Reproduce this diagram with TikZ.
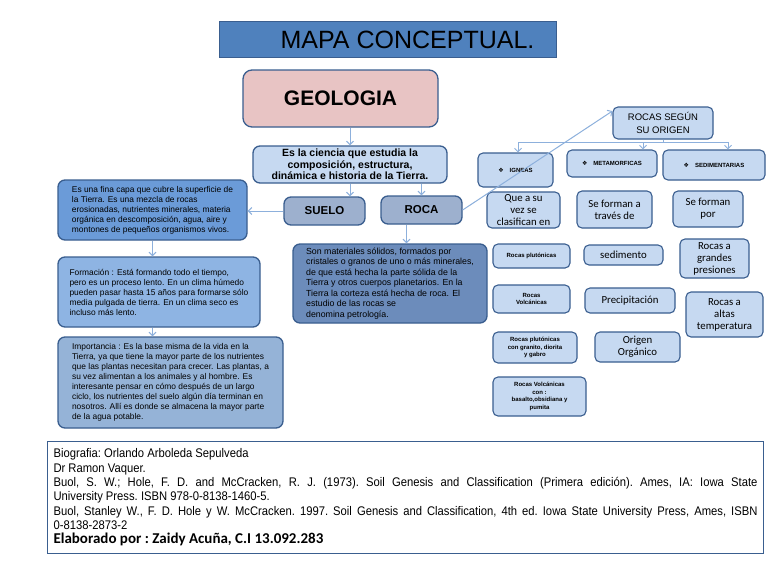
\documentclass[tikz,border=0pt]{standalone}
\usepackage{fontspec}
\setmainfont{Liberation Sans}
\newfontfamily\calibfont{Carlito}
\newfontfamily\narrowfont[FakeStretch=0.9]{Liberation Sans}
\newfontfamily\symbfont{DejaVu Sans}
\usepackage{tikz}
\usetikzlibrary{arrows.meta, positioning}
\definecolor{frame}{HTML}{3A5E8F}
\definecolor{titleblue}{HTML}{4F81BD}
\definecolor{geopink}{HTML}{E8C4C4}
\definecolor{paleblue}{HTML}{C6D9F1}
\definecolor{greyblue}{HTML}{9DB0CE}
\definecolor{skyblue}{HTML}{6B9BD8}
\definecolor{midblue}{HTML}{8EB4E3}
\definecolor{softblue}{HTML}{95B3D7}
\definecolor{steelblue}{HTML}{6C8CBB}
\definecolor{arrowblue}{HTML}{8DB0DC}
\newcommand{\dmark}{{\symbfont ❖}}

\begin{document}
\begin{tikzpicture}[x=1pt, y=-1pt,
  box/.style={rectangle, rounded corners=7pt, draw=frame, line width=1.3pt,
    inner sep=2pt, align=center},
  note/.style={box, align=left, font=\fontsize{8.4}{10}\selectfont},
  lite/.style={box, rounded corners=5pt, fill=paleblue, line width=1.1pt},
  tag/.style={lite, font=\bfseries\fontsize{6}{7.5}\selectfont},
  soft/.style={lite, inner sep=1.5pt, font=\calibfont\fontsize{10.8}{12}\selectfont},
  arr/.style={-{Straight Barb[length=3.5pt, width=7pt]}, arrowblue, line width=1pt},
]
  \useasboundingbox[fill=white] (0,0) rectangle (768,576);

  \node[rectangle, draw=frame, fill=titleblue, line width=1pt, minimum width=337pt,
    minimum height=36pt, font=\fontsize{25}{28}\selectfont] (title) at (387.5,39.5)
    {\hspace*{40pt}MAPA CONCEPTUAL.};

  \node[box, fill=geopink, rounded corners=9pt, minimum width=195pt, minimum height=57pt,
    font=\bfseries\fontsize{21}{24}\selectfont] (geo) at (340.5,98.5) {GEOLOGIA};
  \node[box, fill=paleblue, inner sep=1pt, minimum width=194pt, minimum height=37pt,
    font=\bfseries\fontsize{10.5}{11.5}\selectfont] (def) at (350,164.5)
    {Es la ciencia que estudia la\\composición, estructura,\\dinámica e historia de la Tierra.};
  \node[box, fill=greyblue, minimum width=81pt, minimum height=28pt,
    font=\bfseries\fontsize{11.5}{13}\selectfont] (suelo) at (324.5,211) {SUELO};
  \node[box, fill=greyblue, minimum width=81pt, minimum height=28pt,
    font=\bfseries\fontsize{11.5}{13}\selectfont] (roca) at (421.5,210) {ROCA};

  % suelo
  \node[note, fill=skyblue, minimum width=189pt, minimum height=60pt] (capa) at (152.5,210)
    {Es una fina capa que cubre la superficie de\\
     la Tierra. Es una mezcla de rocas\\
     erosionadas, nutrientes minerales, materia\\
     orgánica en descomposición, agua, aire y\\
     montones de pequeños organismos vivos.};
  \node[note, fill=midblue, minimum width=202pt, minimum height=70pt] (forma) at (159,292)
    {Formación :  Está formando todo el tiempo,\\
     pero es un proceso lento. En un clima húmedo\\
     pueden pasar hasta 15 años para formarse sólo\\
     media pulgada de tierra. En un clima seco es\\
     incluso más lento.};
  \node[note, fill=softblue, minimum width=225pt, minimum height=91pt] (impor) at (170.5,382.5)
    {Importancia : Es la base misma de la vida en la\\
     Tierra, ya que tiene la mayor parte de los nutrientes\\
     que las plantas necesitan para crecer. Las plantas, a\\
     su vez alimentan a los animales  y al hombre. Es\\
     interesante pensar en cómo después de un largo\\
     ciclo, los nutrientes del suelo algún día terminan en\\
     nosotros. Allí es donde se almacena la mayor parte\\
     de la agua potable.};

  % roca
  \node[note, fill=steelblue, minimum width=194pt, minimum height=79pt,
    font=\fontsize{8.8}{10.5}\selectfont] (solid) at (390,283.5)
    { Son materiales  sólidos, formados por\\
     cristales o granos de uno o más minerales,\\
     de que está hecha la parte sólida de la\\
     Tierra y otros cuerpos planetarios. En la\\
     Tierra la corteza está hecha de roca. El\\
     estudio de las rocas se\\
     denomina petrología.};

  \node[lite, minimum width=100pt, minimum height=32pt,
    font=\fontsize{9.5}{13}\selectfont] (rocas) at (663,123) {ROCAS SEGÚN\\SU ORIGEN};
  \node[tag, minimum width=75pt, minimum height=34pt] (igneas) at (515.5,170) {\dmark\quad IGNEAS};
  \node[tag, minimum width=90pt, minimum height=27pt] (metam) at (612,163.5) {\dmark\quad METAMORFICAS};
  \node[tag, minimum width=102pt, minimum height=30pt] (sedim) at (714,165) {\dmark\quad SEDIMENTARIAS};

  \node[soft, minimum width=73pt, minimum height=36pt] (que) at (523.5,210) {Que a su\\vez se\\clasifican en};
  \node[soft, minimum width=75pt, minimum height=37pt] (traves) at (614.5,209.5) {Se forman a\\través de};
  \node[soft, minimum width=70pt, minimum height=36pt] (por) at (708,209) {Se forman\\por};

  \node[tag, minimum width=77pt, minimum height=24pt] (plut) at (531.5,256) {Rocas plutónicas};
  \node[tag, minimum width=77pt, minimum height=28pt] (volc) at (531.5,299) {Rocas\\Volcánicas};
  \node[tag, minimum width=84pt, minimum height=31pt] (plutcon) at (535,347.5)
    {Rocas plutónicas\\con granito, diorita\\y gabro};
  \node[tag, minimum width=93pt, minimum height=39pt] (volccon) at (539.5,396.5)
    {Rocas Volcánicas\\con :\\basalto,obsidiana y\\pumita};

  \node[soft, minimum width=79pt, minimum height=20pt] (sedimento) at (623.5,255) {sedimento};
  \node[soft, minimum width=90pt, minimum height=25pt] (precip) at (630,300.5) {Precipitación};
  \node[soft, minimum width=85pt, minimum height=30pt] (origen) at (637.5,347) {Origen\\Orgánico};
  \node[soft, minimum width=69pt, minimum height=39pt] (grandes) at (714.5,258.5) {Rocas a\\grandes\\presiones};
  \node[soft, minimum width=77pt, minimum height=45pt] (altas) at (724.5,314.5) {Rocas a\\altas\\temperatura};

  % fuentes
  \node[rectangle, draw=frame, line width=1pt, anchor=north west, minimum width=716pt,
    minimum height=112pt, inner xsep=6pt, text width=704pt, align=justify] (bib) at (47,441)
    {\parindent=0pt\frenchspacing\narrowfont\fontsize{12.5}{14.3}\selectfont
     Biografia: Orlando Arboleda Sepulveda\par
     Dr Ramon Vaquer.\par
     Buol, S. W.; Hole, F. D. and McCracken, R. J. (1973). Soil Genesis and Classification (Primera edición). Ames, IA: Iowa State\linebreak
     University Press. ISBN 978-0-8138-1460-5.\par
     Buol, Stanley W., F. D. Hole y W. McCracken. 1997. Soil Genesis and Classification, 4th ed. Iowa State University Press, Ames, ISBN\linebreak
     0-8138-2873-2\par
     {\calibfont\bfseries\fontsize{15}{18}\selectfont Elaborado por : Zaidy Acuña, C.I 13.092.283}\par};

  \draw[arr] (def.north |- geo.south) -- (def.north);
  \draw[arr] (def.south) -- (def.south |- suelo.north);
  \draw[arr] (roca.north |- def.south) -- (roca.north);
  \draw[arr] (suelo.west) -- (suelo.west -| capa.east);
  \draw[arr] (capa.south) -- (capa.south |- forma.north);
  \draw[arr] (capa.south |- forma.south) -- (capa.south |- impor.north);
  \draw[arr] ([xshift=-15pt]roca.south) -- ([xshift=-15pt]roca.south |- solid.north);
  \draw[arr] (roca.east) -- ([yshift=12pt]rocas.west);
  \draw[arr] (rocas.south) -- ++(0,3) -| ([xshift=2.5pt]igneas.north);
  \draw[arr] (rocas.south) -- ++(0,3) -| ([xshift=31pt]metam.north);
  \draw[arr] (rocas.south) -- ++(0,3) -| ([xshift=14pt]sedim.north);
\end{tikzpicture}
\end{document}
